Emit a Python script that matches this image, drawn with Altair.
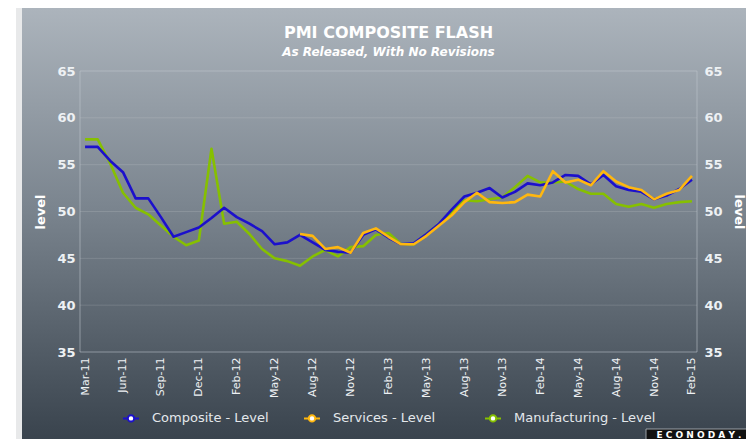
import json
import altair as alt
import pandas as pd

# ---------------- data ----------------
tick_labels = ["Mar-11", "Jun-11", "Sep-11", "Dec-11", "Feb-12", "May-12", "Aug-12",
               "Nov-12", "Feb-13", "May-13", "Aug-13", "Nov-13", "Feb-14", "May-14",
               "Aug-14", "Nov-14", "Feb-15"]

composite = [56.9, 56.9, 55.4, 54.2, 51.4, 51.4, 49.4, 47.3, 47.8, 48.3,
             49.3, 50.4, 49.4, 48.7, 47.9, 46.5, 46.7, 47.5, 46.7, 45.9,
             45.7, 45.6, 47.5, 48.1, 47.2, 46.5, 46.6, 47.6, 48.7, 50.2,
             51.6, 52.0, 52.5, 51.5, 52.1, 53.0, 52.8, 53.1, 53.9, 53.8,
             52.9, 53.9, 52.7, 52.3, 52.1, 51.3, 51.7, 52.4, 53.4]

services = [None] * 17 + [
             47.6, 47.4, 46.0, 46.2, 45.6, 47.7, 48.2, 47.3, 46.5, 46.5,
             47.4, 48.5, 49.6, 51.0, 52.0, 51.0, 50.9, 51.0, 51.8, 51.6,
             54.3, 53.1, 53.4, 52.8, 54.3, 53.2, 52.6, 52.3, 51.3, 51.9,
             52.3, 53.8]

manufacturing = [57.7, 57.7, 55.1, 52.0, 50.4, 49.7, 48.5, 47.3, 46.4, 46.9,
                 56.7, 48.7, 48.9, 47.6, 46.0, 45.0, 44.7, 44.2, 45.2, 45.9,
                 45.2, 46.2, 46.3, 47.5, 47.7, 46.5, 46.5, 47.6, 48.7, 49.9,
                 51.2, 51.1, 51.3, 51.5, 52.6, 53.8, 53.1, 53.1, 53.2, 52.4,
                 51.9, 51.9, 50.8, 50.5, 50.8, 50.4, 50.8, 51.0, 51.1]

series_names = ["Composite - Level", "Services - Level", "Manufacturing - Level"]
series_colors = ["#1c10cc", "#ffb70f", "#86c000"]
y_ticks = [35, 40, 45, 50, 55, 60, 65]
grid_values = [40, 45, 50, 55, 60]
title_text = "PMI COMPOSITE FLASH"
subtitle_text = "As Released, With No Revisions"

rows = []
for name, vals in zip(series_names, [composite, services, manufacturing]):
    for i, v in enumerate(vals):
        if v is not None:
            rows.append({"idx": i, "value": v, "series": name})
df = pd.DataFrame(rows)

W, H = 617, 281
FONT = "DejaVu Sans"
LABEL = "#eef1f4"

xscale = alt.Scale(domain=[-0.4, len(composite) - 1 + 0.4], nice=False, zero=False)
yscale = alt.Scale(domain=[35, 65], nice=False, zero=False)

label_expr = json.dumps(tick_labels) + "[round(datum.value / 3)]"

x_enc = alt.X("idx:Q", scale=xscale,
              axis=alt.Axis(values=list(range(0, len(composite), 3)), labelExpr=label_expr,
                            labelAngle=270, labelAlign="right", labelBaseline="middle",
                            ticks=False, domain=False, grid=False, title=None,
                            labelFont=FONT, labelFontSize=11, labelColor=LABEL,
                            labelPadding=5, zindex=1))

left_axis = alt.Axis(values=y_ticks, orient="left", title="level",
                     titleFont=FONT, titleFontSize=13, titleFontWeight="bold",
                     titleColor="white", titlePadding=9,
                     labelFont=FONT, labelFontSize=13, labelFontWeight="bold",
                     labelColor=LABEL, labelPadding=5, ticks=False,
                     domain=False, grid=False, zindex=1)
y_left = alt.Y("value:Q", scale=yscale, axis=left_axis)

y_right = alt.Y("value:Q", scale=yscale,
                axis=alt.Axis(values=y_ticks, orient="right", title="level",
                              titleFont=FONT, titleFontSize=13, titleFontWeight="bold",
                              titleColor="white", titlePadding=9,
                              labelFont=FONT, labelFontSize=13, labelFontWeight="bold",
                              labelColor=LABEL, labelPadding=7, ticks=False,
                              domain=False, grid=False, zindex=1))

legend_symbol = ("M-1,0H-0.4M0.4,0H1"
                 "M0.4,0A0.4,0.4 0 1,1 -0.4,0A0.4,0.4 0 1,1 0.4,0Z")

color_enc = alt.Color("series:N",
                      scale=alt.Scale(domain=series_names, range=series_colors),
                      legend=alt.Legend(orient="none", legendX=42, legendY=338,
                                        direction="horizontal", columns=3,
                                        gridAlign="all", columnPadding=6, title=None,
                                        symbolType=legend_symbol, symbolSize=256,
                                        symbolStrokeWidth=2, symbolFillColor="white",
                                        labelFont=FONT, labelFontSize=13,
                                        labelColor="#e4e8ec", labelOffset=12,
                                        padding=0, zindex=1))

one = pd.DataFrame({"a": [0]})

frame_bg = alt.Chart(one).mark_rect(color="#e8e9ea").encode(
    x=alt.value(-64), x2=alt.value(W + 90), y=alt.value(-70), y2=alt.value(H + 95))

gradient = alt.LinearGradient(
    gradient="linear", x1=0, x2=0, y1=0, y2=1,
    stops=[alt.GradientStop(color="#acb4bc", offset=0),
           alt.GradientStop(color="#7b858f", offset=0.45),
           alt.GradientStop(color="#37414b", offset=1)])

grad_bg = alt.Chart(one).mark_rect(color=gradient).encode(
    x=alt.value(-58), x2=alt.value(W + 90), y=alt.value(-63), y2=alt.value(H + 95))

grid = alt.Chart(pd.DataFrame({"value": grid_values})).mark_rule(
    color="white", strokeOpacity=0.13, strokeWidth=1).encode(y=y_left)

border = alt.Chart(one).mark_rect(filled=False, stroke="#c3cad1", strokeOpacity=0.55,
                                  strokeWidth=1).encode(
    x=alt.value(0), x2=alt.value(W), y=alt.value(0), y2=alt.value(H))


def series_line(name):
    return alt.Chart(df).transform_filter(alt.datum.series == name).mark_line(
        strokeWidth=2.6, strokeJoin="round").encode(x=x_enc, y=y_left, color=color_enc)


inner = alt.layer(grid, border,
                  series_line(series_names[2]),
                  series_line(series_names[0]),
                  series_line(series_names[1]))

right_axis = alt.Chart(df).transform_filter(
    alt.datum.series == series_names[0]).mark_line(opacity=0).encode(
    x=x_enc, y=y_right)

title_mark = alt.Chart(pd.DataFrame({"t": [title_text]})).mark_text(
    font=FONT, fontSize=16, fontWeight="bold", color="white", align="center",
    baseline="middle").encode(text="t:N", x=alt.value(W / 2), y=alt.value(-38))

subtitle_mark = alt.Chart(pd.DataFrame({"t": [subtitle_text]})).mark_text(
    font=FONT, fontSize=12, fontWeight="bold", fontStyle="italic", color="white",
    align="center", baseline="middle").encode(text="t:N", x=alt.value(W / 2), y=alt.value(-19))

logo_box = alt.Chart(one).mark_rect(color="#111111", stroke="#9aa0a6", strokeWidth=1).encode(
    x=alt.value(566), x2=alt.value(672), y=alt.value(358), y2=alt.value(378))
logo_text = alt.Chart(one).mark_text(text="E C O N O D A Y .", font=FONT, fontSize=9,
                                     fontWeight="bold", color="white", align="center",
                                     baseline="middle").encode(
    x=alt.value(619), y=alt.value(364))

chart = alt.layer(frame_bg, grad_bg, inner, right_axis, title_mark, subtitle_mark,
                  logo_box, logo_text).resolve_scale(
    y="independent").properties(
    width=W, height=H,
    padding={"left": 72, "top": 63, "right": 49, "bottom": 87},
    autosize=alt.AutoSizeParams(type="none"),
).configure(background="white").configure_view(stroke=None)

chart.save("out.html", embed_options={"renderer": "svg", "actions": False})
